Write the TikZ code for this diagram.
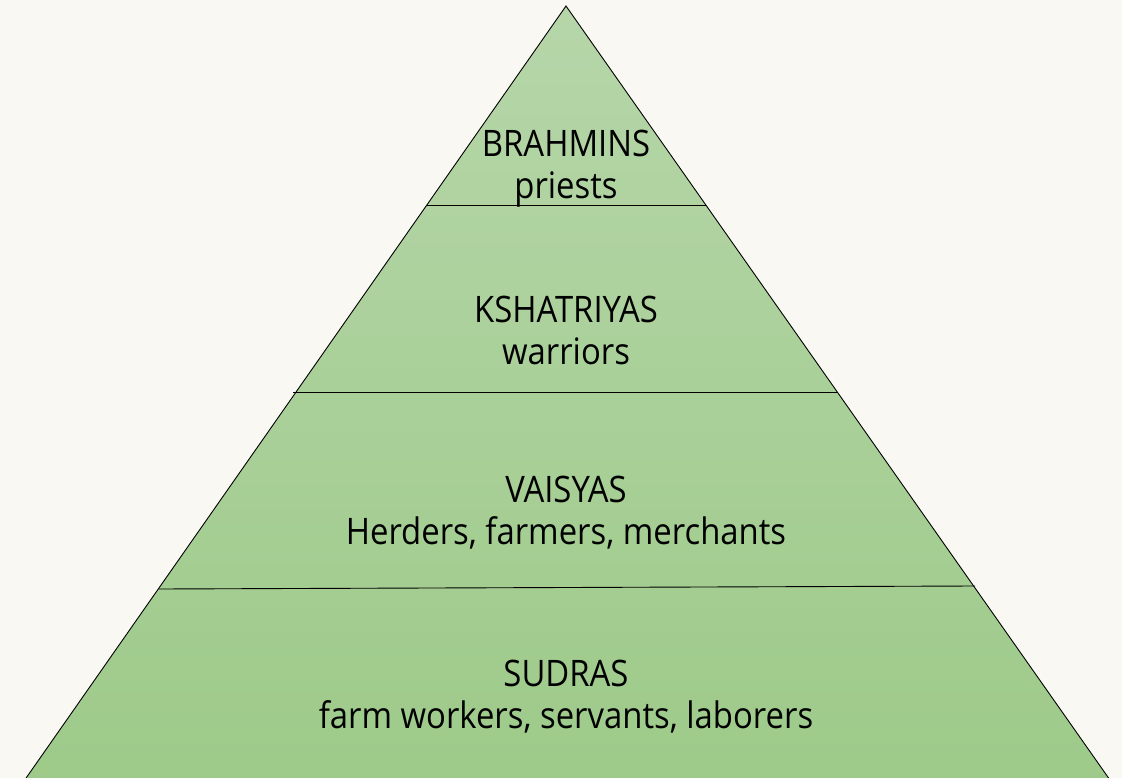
\documentclass[tikz,border=0pt]{standalone}
\usepackage{fontspec}
\setmainfont{Open Sans}[FakeStretch=0.9]
\begin{document}
\begin{tikzpicture}[x=1pt,y=-1pt]
\definecolor{bg}{HTML}{FAF8F3}
\definecolor{gtop}{HTML}{B6D6A9}
\definecolor{gbot}{HTML}{9DCA89}
\tikzset{
  tier/.style={align=center,font=\fontsize{36.5}{42}\selectfont,text=black,inner sep=0pt},
  sep/.style={draw=black,line width=0.9pt},
}
\useasboundingbox (0,0) rectangle (1122,778);
\fill[bg] (0,0) rectangle (1122,778);
\clip (0,0) rectangle (1122,778);
\coordinate (apex) at (566,6);
\coordinate (bl) at (17.7,790);
\coordinate (br) at (1117,790);
\shade[top color=gtop,bottom color=gbot] (apex) -- (br) -- (bl) -- cycle;
\draw[line width=0.9pt] (bl) -- (apex) -- (br);
% separators
\coordinate (l1) at (426,205); \coordinate (r1) at (706,205);
\coordinate (l2) at (293,392); \coordinate (r2) at (838,392);
\coordinate (l3) at (159,589); \coordinate (r3) at (975,586);
\draw[sep] (l1) -- (r1);
\draw[sep] (l2) -- (r2);
\draw[sep] (l3) -- (r3);
\node[tier,anchor=base] (b1) at (566,157) {BRAHMINS};
\node[tier,anchor=base] (b2) at (566,199) {priests};
\node[tier,anchor=base] (k1) at (566,322) {KSHATRIYAS};
\node[tier,anchor=base] (k2) at (566,364) {warriors};
\node[tier,anchor=base] (v1) at (566,502) {VAISYAS};
\node[tier,anchor=base] (v2) at (566,544) {Herders, farmers, merchants};
\node[tier,anchor=base] (s1) at (566,686) {SUDRAS};
\node[tier,anchor=base] (s2) at (566,728) {farm workers, servants, laborers};
\end{tikzpicture}
\end{document}
